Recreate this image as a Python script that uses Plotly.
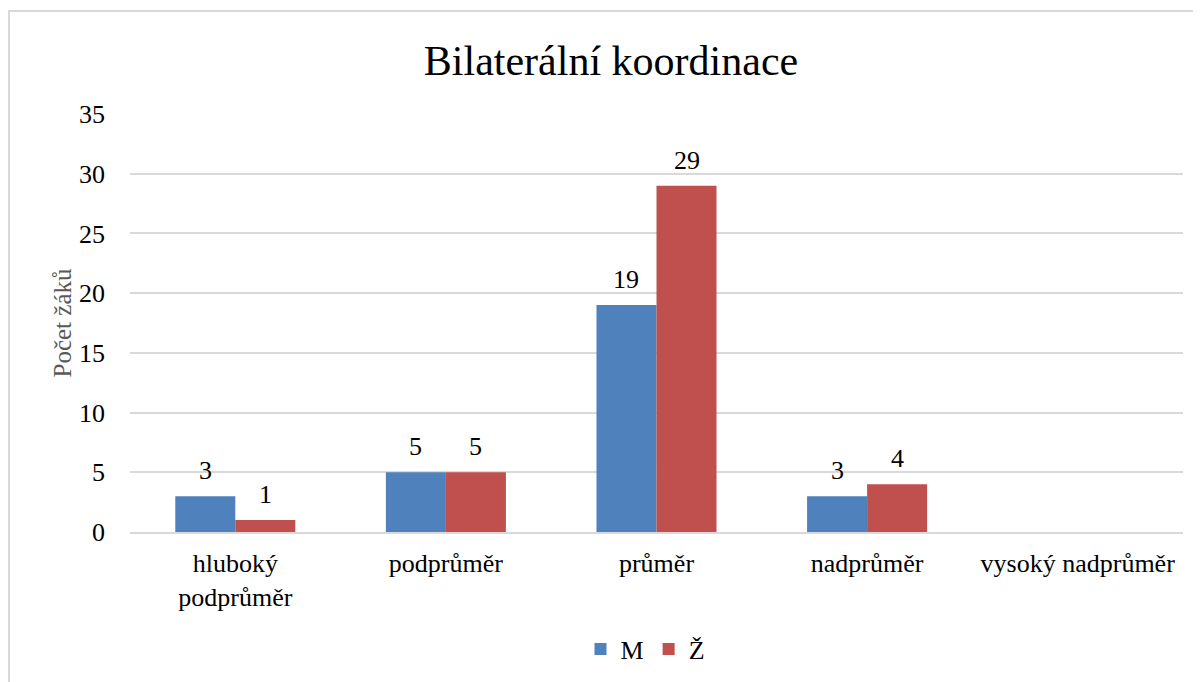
import plotly.graph_objects as go

categories = ["hluboký<br>podprůměr", "podprůměr", "průměr", "nadprůměr", "vysoký nadprůměr"]
m_values = [3, 5, 19, 3, None]
z_values = [1, 5, 29, 4, None]
y_ticks = [0, 5, 10, 15, 20, 25, 30, 35]

FONT = "Times New Roman"

# page body has an 8px default margin: layout numbers below compensate for it
W, H = 1201, 682
L, R, T, B = 122, 26, 106, 158
plot_w = W - L - R
plot_h = H - T - B
BARGAP = 0.43
slot = plot_w / len(categories) * (1 - BARGAP) / 2  # width of one bar in px

fig = go.Figure()
fig.add_trace(go.Bar(name="M", x=categories, y=m_values, marker_color="#4F81BD",
                     marker_line_width=0))
fig.add_trace(go.Bar(name="Ž", x=categories, y=z_values, marker_color="#C0504D",
                     marker_line_width=0))

annotations = []
for vals, sign in ((m_values, -1), (z_values, 1)):
    for c, v in zip(categories, vals):
        if v is None:
            continue
        annotations.append(dict(x=c, y=v, xref="x", yref="y", text=str(v), showarrow=False,
                                xshift=sign * slot / 2, yanchor="bottom", yshift=9,
                                font=dict(family=FONT, size=26, color="black")))

fig.update_layout(
    width=W, height=H,
    margin=dict(l=L, r=R, t=T, b=B, autoexpand=False),
    paper_bgcolor="white", plot_bgcolor="white",
    font=dict(family=FONT, size=26, color="black"),
    barmode="group", bargap=BARGAP, bargroupgap=0,
    title=dict(text="Bilaterální koordinace", x=603 / W, xref="container", xanchor="center",
               y=1 - 52 / H, yref="container", yanchor="middle",
               font=dict(family=FONT, size=42, color="black")),
    legend=dict(orientation="h", x=0.5 - 11 / plot_w, xanchor="center",
                y=(plot_h + T - 641) / plot_h,
                yanchor="middle", font=dict(family=FONT, size=26, color="black"),
                itemwidth=30, traceorder="normal"),
    annotations=annotations,
    shapes=[dict(type="rect", xref="paper", yref="paper",
                 x0=(1 - L) / plot_w, x1=(W + 10 - L) / plot_w,
                 y0=(T + plot_h - (H + 20)) / plot_h, y1=(T + plot_h - 3) / plot_h,
                 line=dict(color="#D9D9D9", width=2), fillcolor="rgba(0,0,0,0)", layer="below")],
)
fig.update_xaxes(showline=True, linecolor="#D9D9D9", linewidth=2, ticks="",
                 ticklabelstandoff=7,
                 tickfont=dict(family=FONT, size=26, color="black"))
fig.update_yaxes(range=[0, 35], tickvals=y_ticks, showgrid=True, gridcolor="#D9D9D9", gridwidth=2,
                 zeroline=False, showline=False, ticklabelstandoff=24,
                 tickfont=dict(family=FONT, size=26, color="black"),
                 title=dict(text="Počet žáků", standoff=0,
                            font=dict(family=FONT, size=25, color="#595959")))

fig.write_html("out.html")
